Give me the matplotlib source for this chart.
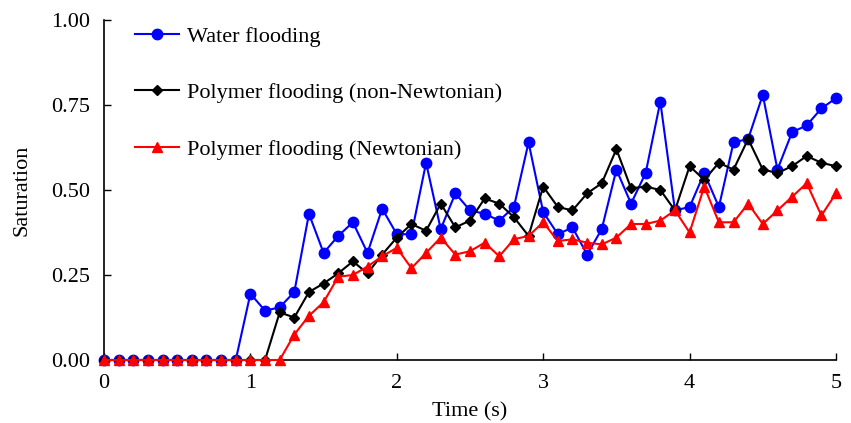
import numpy as np
import matplotlib
matplotlib.use("Agg")
import matplotlib.pyplot as plt

plt.rcParams["font.family"] = ["Liberation Serif", "DejaVu Serif"]

time = np.round(np.arange(0, 5.01, 0.1), 1)

water = [0, 0, 0, 0, 0, 0, 0, 0, 0, 0,
         0.195, 0.145, 0.155, 0.20, 0.43, 0.315, 0.365, 0.405, 0.315, 0.445,
         0.37, 0.37, 0.58, 0.385, 0.49, 0.44, 0.43, 0.41, 0.45, 0.64,
         0.435, 0.37, 0.39, 0.31, 0.385, 0.56, 0.46, 0.55, 0.76, 0.44,
         0.45, 0.55, 0.45, 0.64, 0.65, 0.78, 0.56, 0.67, 0.69, 0.74, 0.77]

polymer_nn = [0, 0, 0, 0, 0, 0, 0, 0, 0, 0,
              0, 0, 0.14, 0.125, 0.20, 0.225, 0.255, 0.29, 0.255, 0.31,
              0.36, 0.40, 0.38, 0.46, 0.39, 0.41, 0.475, 0.46, 0.42, 0.365,
              0.51, 0.45, 0.44, 0.49, 0.52, 0.62, 0.505, 0.51, 0.50, 0.44,
              0.57, 0.53, 0.58, 0.56, 0.65, 0.56, 0.55, 0.57, 0.60, 0.58, 0.57]

polymer_n = [0, 0, 0, 0, 0, 0, 0, 0, 0, 0,
             0, 0, 0, 0.075, 0.13, 0.17, 0.245, 0.25, 0.275, 0.305,
             0.33, 0.27, 0.315, 0.36, 0.31, 0.32, 0.345, 0.305, 0.355, 0.365,
             0.405, 0.35, 0.355, 0.345, 0.34, 0.36, 0.40, 0.40, 0.41, 0.44,
             0.375, 0.51, 0.405, 0.405, 0.46, 0.40, 0.44, 0.48, 0.52, 0.425, 0.49]

fig = plt.figure(figsize=(8.51, 4.23), dpi=100)
ax = fig.add_axes([104 / 851, 1 - 360 / 423, (836 - 104) / 851, (360 - 20) / 423])

ax.plot(time, water, color="#0000ff", marker="o", markersize=7.5, lw=1.5,
        label="Water flooding", clip_on=False, zorder=3)
ax.plot(time, polymer_nn, color="black", marker="D", markersize=5, lw=1.5,
        label="Polymer flooding (non-Newtonian)", clip_on=False, zorder=4)
ax.plot(time, polymer_n, color="#ff0000", marker="^", markersize=7, lw=1.5,
        label="Polymer flooding (Newtonian)", clip_on=False, zorder=5)

ax.set_xlim(0, 5)
ax.set_ylim(0, 1)
ax.set_xticks([0, 1, 2, 3, 4, 5])
ax.set_yticks([0, 0.25, 0.5, 0.75, 1.0])
ax.set_yticklabels(["0.00", "0.25", "0.50", "0.75", "1.00"])
ax.tick_params(direction="in", labelsize=16, length=5, width=1)
ax.tick_params(axis="x", pad=10)
ax.tick_params(axis="y", pad=10)
ax.spines["top"].set_visible(False)
ax.spines["right"].set_visible(False)
ax.spines["left"].set_linewidth(1.2)
ax.spines["bottom"].set_linewidth(1.2)

ax.set_xlabel("Time (s)", fontsize=16, labelpad=7)
ax.set_ylabel("Saturation", fontsize=16, labelpad=14)

ax.legend(loc="upper left", bbox_to_anchor=(0.042, 0.982), frameon=False,
          fontsize=16, labelspacing=1.62, handlelength=2.0, handletextpad=0.36,
          borderpad=0, borderaxespad=0)

fig.savefig("out.png", dpi=100)
